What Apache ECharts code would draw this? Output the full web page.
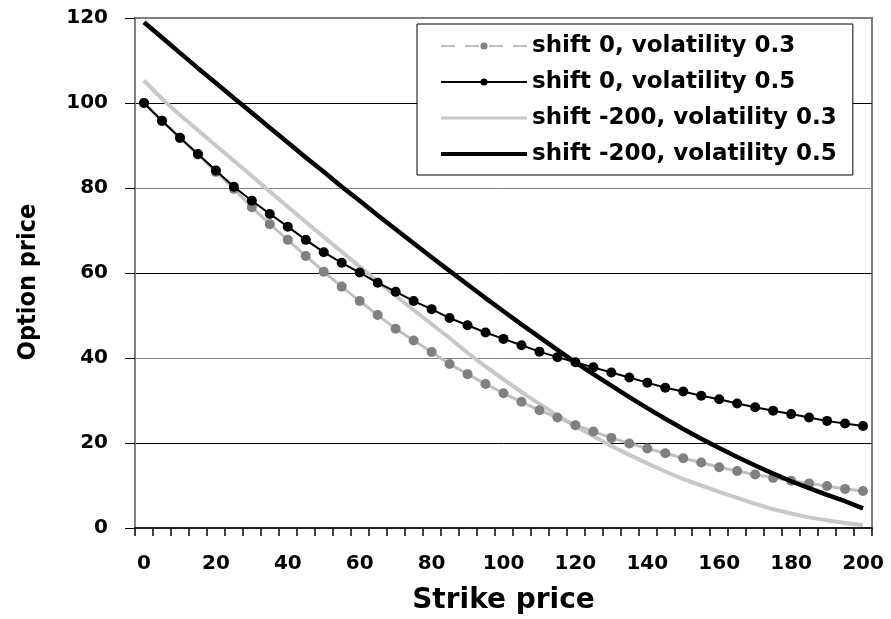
<!DOCTYPE html>
<html>
<head>
<meta charset="utf-8">
<script src="https://cdn.jsdelivr.net/npm/echarts@6/dist/echarts.min.js"></script>
<style>
html,body{margin:0;padding:0;background:#fff;}
#chart{width:891px;height:619px;}
</style>
</head>
<body>
<div id="chart"></div>
<script>
const strikes = ['0','5','10','15','20','25','30','35','40','45','50','55','60','65','70','75','80','85','90','95','100',
  '105','110','115','120','125','130','135','140','145','150','155','160','165','170','175','180','185','190','195','200'];

const shift0Vol03 = [100, 95.8, 91.8, 87.9, 83.8, 79.8, 75.5, 71.5, 67.8, 64.0, 60.3, 56.8, 53.4, 50.1, 46.9, 44.1, 41.4, 38.6, 36.2, 33.9, 31.7,
  29.7, 27.7, 26.0, 24.2, 22.7, 21.2, 19.9, 18.7, 17.6, 16.4, 15.4, 14.3, 13.4, 12.6, 11.8, 11.1, 10.5, 9.9, 9.2, 8.7];

const shift0Vol05 = [100, 95.8, 91.8, 88.0, 84.1, 80.3, 77.0, 73.9, 70.9, 67.8, 64.9, 62.4, 60.1, 57.7, 55.6, 53.4, 51.5, 49.4, 47.7, 46.0, 44.5,
  43.0, 41.5, 40.2, 39.0, 37.8, 36.6, 35.4, 34.2, 33.0, 32.1, 31.1, 30.3, 29.3, 28.4, 27.6, 26.8, 26.0, 25.2, 24.6, 24.0];

const shiftM200Vol03 = [105.3, 101.0, 97.2, 93.6, 90.0, 86.4, 82.8, 79.2, 75.6, 72.0, 68.5, 65.0, 61.5, 58.0, 54.6, 51.3, 48.0, 44.7, 41.2, 38.0, 35.0,
  32.0, 29.2, 26.5, 24.0, 21.6, 19.3, 17.2, 15.2, 13.3, 11.5, 10.0, 8.5, 7.1, 5.7, 4.4, 3.4, 2.5, 1.8, 1.2, 0.7];

const shiftM200Vol05 = [119.0, 115.4, 111.8, 108.2, 104.7, 101.2, 97.7, 94.2, 90.7, 87.2, 83.8, 80.3, 77.0, 73.6, 70.3, 67.0, 63.7, 60.5, 57.3, 54.1, 51.0,
  47.9, 44.9, 41.9, 39.0, 36.2, 33.5, 30.8, 28.2, 25.7, 23.3, 21.0, 18.8, 16.7, 14.7, 12.8, 11.0, 9.4, 7.8, 6.3, 4.6];

const seriesNames = ['shift 0, volatility 0.3', 'shift 0, volatility 0.5', 'shift -200, volatility 0.3', 'shift -200, volatility 0.5'];

const chart = echarts.init(document.getElementById('chart'), null, {renderer: 'canvas'});
const boldFont = 'DejaVu Sans';

chart.setOption({
  animation: false,
  backgroundColor: '#ffffff',
  grid: {
    left: 135, right: 19, top: 18, bottom: 91,
    containLabel: false,
    outerBoundsMode: 'none',
    show: true, borderColor: '#808080', borderWidth: 2, backgroundColor: 'transparent'
  },
  legend: {
    orient: 'vertical',
    left: 417, top: 24,
    borderColor: '#000', borderWidth: 1,
    backgroundColor: '#fff',
    padding: [9, 16, 8, 22],
    itemWidth: 86, itemHeight: 9, itemGap: 10,
    textStyle: {fontFamily: boldFont, fontWeight: 'bold', fontSize: 23, lineHeight: 26, color: '#000'},
    data: [
      {name: seriesNames[0], lineStyle: {width: 2, type: [14, 10]}},
      {name: seriesNames[1], lineStyle: {width: 2}},
      {name: seriesNames[2], lineStyle: {width: 3}, itemStyle: {opacity: 0}},
      {name: seriesNames[3], lineStyle: {width: 4}, itemStyle: {opacity: 0}}
    ]
  },
  xAxis: {
    type: 'category',
    data: strikes,
    boundaryGap: true,
    name: 'Strike price',
    nameLocation: 'middle',
    nameGap: 59,
    nameTextStyle: {fontFamily: boldFont, fontWeight: 'bold', fontSize: 28, color: '#000'},
    axisLine: {show: true, lineStyle: {color: '#000', width: 1.5}},
    axisTick: {show: true, inside: false, length: 8, interval: 0, lineStyle: {color: '#000', width: 1.5}},
    axisLabel: {interval: 3, margin: 26, fontFamily: boldFont, fontWeight: 'bold', fontSize: 20, color: '#000'},
    splitLine: {show: false}
  },
  yAxis: {
    type: 'value',
    min: 0, max: 120, interval: 20,
    name: 'Option price',
    nameLocation: 'middle',
    nameGap: 94,
    nameTextStyle: {fontFamily: '"Liberation Sans Narrow", "DejaVu Sans Condensed", "Arial Narrow", sans-serif', fontWeight: 'bold', fontSize: 25, color: '#000', padding: [0, 18, 0, 0]},
    axisLine: {show: true, lineStyle: {color: '#808080', width: 2}},
    axisTick: {show: true, inside: false, length: 10, lineStyle: {color: '#000', width: 1}},
    axisLabel: {margin: 27, fontFamily: boldFont, fontWeight: 'bold', fontSize: 20, color: '#000'},
    splitLine: {show: true, showMinLine: false, showMaxLine: false, lineStyle: {color: ['#000000', '#808080'], width: 1}}
  },
  series: [
    {
      name: seriesNames[0], type: 'line', data: shift0Vol03, z: 3,
      symbol: 'circle', symbolSize: 10, showSymbol: true,
      lineStyle: {color: '#c0c0c0', width: 3},
      itemStyle: {color: '#808080', borderWidth: 0}
    },
    {
      name: seriesNames[1], type: 'line', data: shift0Vol05, z: 6,
      symbol: 'circle', symbolSize: 10, showSymbol: true,
      lineStyle: {color: '#000', width: 2},
      itemStyle: {color: '#000', borderWidth: 0}
    },
    {
      name: seriesNames[2], type: 'line', data: shiftM200Vol03, z: 2,
      symbol: 'none',
      lineStyle: {color: '#c8c8c8', width: 4},
      itemStyle: {color: '#c8c8c8'}
    },
    {
      name: seriesNames[3], type: 'line', data: shiftM200Vol05, z: 5,
      symbol: 'none',
      lineStyle: {color: '#000', width: 4.5},
      itemStyle: {color: '#000'}
    }
  ]
});
</script>
</body>
</html>
